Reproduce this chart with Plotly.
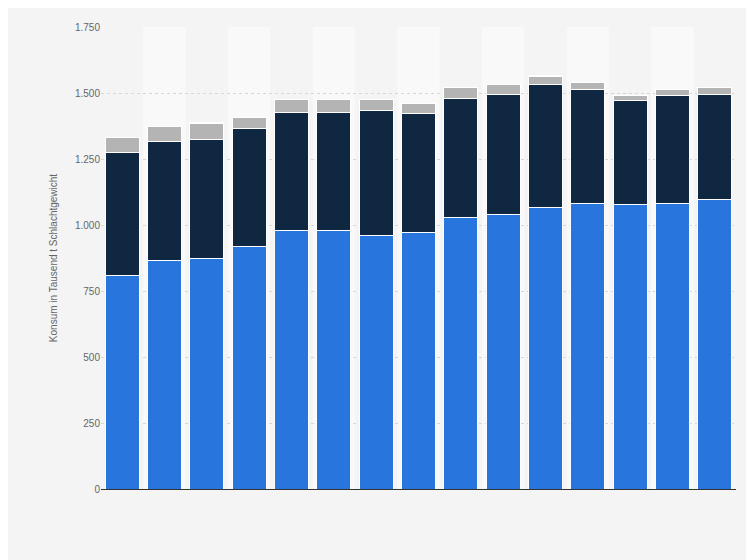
import plotly.graph_objects as go

categories = [str(i) for i in range(1, 16)]
blue = [807, 864, 875, 917, 981, 981, 962, 970, 1027, 1038, 1068, 1083, 1076, 1083, 1098]
navy = [466, 454, 447, 447, 447, 447, 470, 454, 454, 458, 466, 432, 394, 409, 398]
gray = [60, 57, 61, 45, 49, 46, 45, 38, 38, 38, 27, 23, 22, 23, 23]
red = [0, 0, 5, 0, 0, 0, 0, 0, 0, 0, 4, 0, 0, 0, 0]
yticks = [0, 250, 500, 750, 1000, 1250, 1500, 1750]
ytext = ["0", "250", "500", "750", "1.000", "1.250", "1.500", "1.750"]

fig = go.Figure()
for vals, col in [(blue, "#2876dd"), (navy, "#0f2741"), (gray, "#b4b4b4"), (red, "#c0392b")]:
    fig.add_bar(x=categories, y=vals, marker=dict(color=col, line=dict(color="white", width=1)))

shapes = []
for i in range(len(categories)):
    if i % 2 == 1:
        shapes.append(dict(type="rect", xref="x", yref="paper", x0=i - 0.5, x1=i + 0.5, y0=0, y1=1,
                           fillcolor="#f9f9f9", line=dict(width=0), layer="below"))

fig.update_layout(
    barmode="stack", bargap=0.2, showlegend=False, width=754, height=560,
    paper_bgcolor="#f4f4f4", plot_bgcolor="#f4f4f4",
    margin=dict(l=93, r=26, t=19, b=79),
    font=dict(family="Liberation Sans, Arial", size=10, color="#666"),
    shapes=shapes,
    xaxis=dict(showticklabels=False, showline=True, linecolor="#333", linewidth=1, ticks=""),
    yaxis=dict(range=[0, 1750], tickvals=yticks, ticktext=ytext, showgrid=True,
               gridcolor="#d6d6d6", griddash="dot", zeroline=False,
               title=dict(text="Konsum in Tausend t Schlachtgewicht", font=dict(size=10, color="#666"))),
)
fig.write_html("out.html")
